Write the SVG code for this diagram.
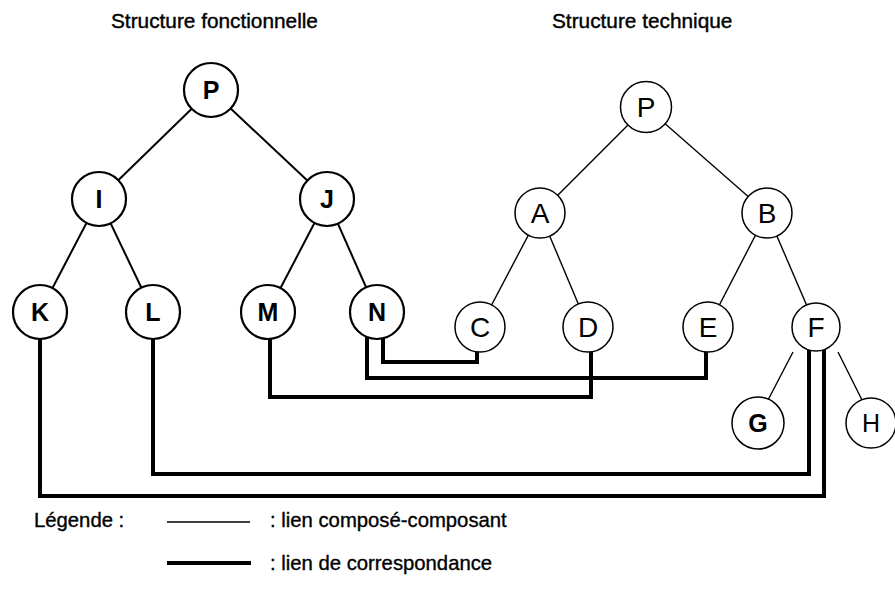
<svg xmlns="http://www.w3.org/2000/svg" width="895" height="610" viewBox="0 0 895 610">
  <style>
    .title { font-family: "Liberation Sans", Arial, sans-serif; font-size: 20.8px; fill: #000; stroke: #000; stroke-width: 0.4; }
    .legend { font-family: "Liberation Sans", Arial, sans-serif; font-size: 20.3px; fill: #000; stroke: #000; stroke-width: 0.35; }
    .edge-f { stroke: #000; stroke-width: 2; fill: none; }
    .edge-t { stroke: #000; stroke-width: 1.4; fill: none; }
    .link { stroke: #000; stroke-width: 4; fill: none; stroke-linejoin: miter; stroke-linecap: butt; }
    .node-f circle { fill: #fff; stroke: #000; stroke-width: 2.2; }
    .node-t circle { fill: #fff; stroke: #000; stroke-width: 1.5; }
    .node-f text { font-family: "Liberation Sans", Arial, sans-serif; font-weight: bold; font-size: 25px; text-anchor: middle; fill: #000; }
    .node-t text { font-family: "Liberation Sans", Arial, sans-serif; font-size: 28px; text-anchor: middle; fill: #000; }
  </style>

  <rect width="895" height="610" fill="#fff"/>

  <!-- headings -->
  <text class="title" x="111" y="28">Structure fonctionnelle</text>
  <text class="title" x="552" y="28">Structure technique</text>

  <!-- connectors: thin composé-composant edges and thick correspondence links -->
  <g id="connectors">
    <g id="tree-edges-fonctionnelle">
      <line class="edge-f" x1="211" y1="90" x2="99" y2="199"/>
      <line class="edge-f" x1="211" y1="90" x2="327" y2="199"/>
      <line class="edge-f" x1="99" y1="199" x2="40" y2="312"/>
      <line class="edge-f" x1="99" y1="199" x2="153" y2="312"/>
      <line class="edge-f" x1="327" y1="199" x2="268" y2="312"/>
      <line class="edge-f" x1="327" y1="199" x2="377" y2="312"/>
    </g>
    <g id="tree-edges-technique">
      <line class="edge-t" x1="646" y1="107" x2="540" y2="213"/>
      <line class="edge-t" x1="646" y1="107" x2="767" y2="213"/>
      <line class="edge-t" x1="540" y1="213" x2="480" y2="327"/>
      <line class="edge-t" x1="540" y1="213" x2="588" y2="327"/>
      <line class="edge-t" x1="767" y1="213" x2="708" y2="327"/>
      <line class="edge-t" x1="767" y1="213" x2="816" y2="327"/>
      <line class="edge-t" x1="793" y1="352" x2="768" y2="400"/>
      <line class="edge-t" x1="838" y1="352" x2="862" y2="400"/>
    </g>
    <g id="correspondence-links">
      <path class="link" d="M383,312 V362 H477 V327"/>
      <path class="link" d="M367,312 V378 H706 V327"/>
      <path class="link" d="M270,312 V397 H591 V327"/>
      <path class="link" d="M153,312 V474 H809 V327"/>
      <path class="link" d="M40,312 V496 H824 V327"/>
    </g>
  </g>

  <!-- functional structure nodes -->
  <g id="f-P" class="node-f"><circle cx="211" cy="90" r="27"/><text x="211" y="99">P</text></g>
  <g id="f-I" class="node-f"><circle cx="99" cy="199" r="27"/><text x="99" y="208">I</text></g>
  <g id="f-J" class="node-f"><circle cx="327" cy="199" r="27"/><text x="327" y="208">J</text></g>
  <g id="f-K" class="node-f"><circle cx="40" cy="312" r="27"/><text x="40" y="321">K</text></g>
  <g id="f-L" class="node-f"><circle cx="153" cy="312" r="27"/><text x="153" y="321">L</text></g>
  <g id="f-M" class="node-f"><circle cx="268" cy="312" r="27"/><text x="268" y="321">M</text></g>
  <g id="f-N" class="node-f"><circle cx="377" cy="312" r="27"/><text x="377" y="321">N</text></g>

  <!-- technical structure nodes -->
  <g id="t-P" class="node-t"><circle cx="646" cy="107" r="25.5"/><text x="646" y="117">P</text></g>
  <g id="t-A" class="node-t"><circle cx="540" cy="213" r="25"/><text x="540" y="223">A</text></g>
  <g id="t-B" class="node-t"><circle cx="767" cy="213" r="25"/><text x="767" y="223">B</text></g>
  <g id="t-C" class="node-t"><circle cx="480" cy="327" r="25"/><text x="480" y="337">C</text></g>
  <g id="t-D" class="node-t"><circle cx="588" cy="327" r="25"/><text x="588" y="337">D</text></g>
  <g id="t-E" class="node-t"><circle cx="708" cy="327" r="25"/><text x="708" y="337">E</text></g>
  <g id="t-F" class="node-t"><circle cx="816" cy="327" r="24"/><text x="816" y="337">F</text></g>
  <g id="t-G" class="node-t"><circle cx="758" cy="423" r="26"/><text x="758" y="432" style="font-weight:bold;font-size:25px">G</text></g>
  <g id="t-H" class="node-t"><circle cx="871" cy="423" r="25"/><text x="871" y="432" style="font-size:25px">H</text></g>

  <!-- legend -->
  <g id="legend">
    <text class="legend" x="34" y="527">Légende :</text>
    <line x1="167" y1="522" x2="250" y2="522" stroke="#000" stroke-width="1.4"/>
    <text class="legend" x="270" y="527">: lien composé-composant</text>
    <line x1="167" y1="563" x2="251" y2="563" stroke="#000" stroke-width="4"/>
    <text class="legend" x="270" y="570">: lien de correspondance</text>
  </g>
</svg>
